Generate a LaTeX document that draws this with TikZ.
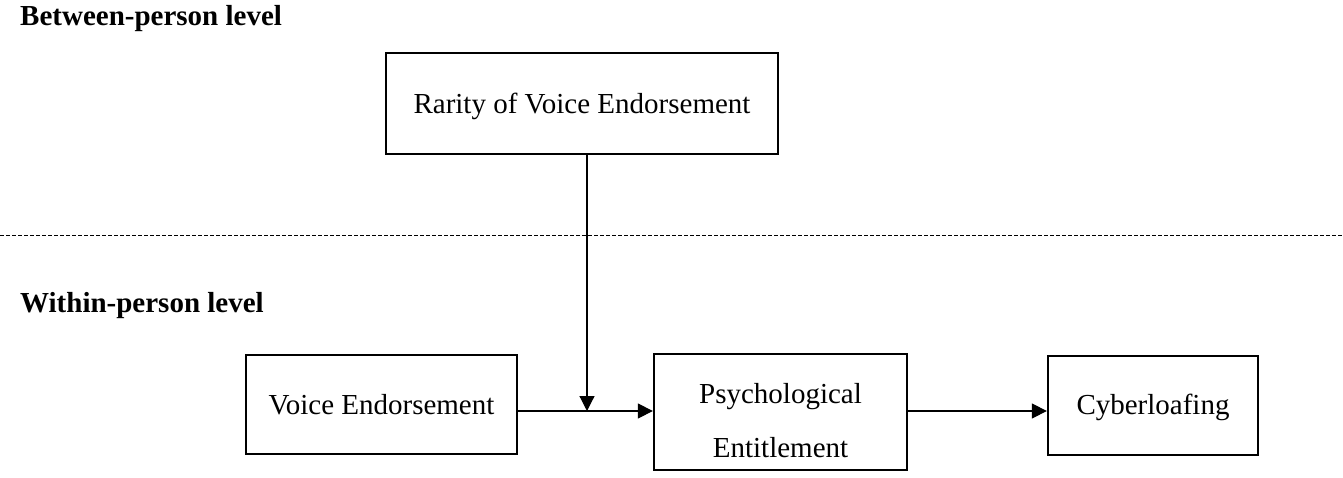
\documentclass[tikz,border=0pt]{standalone}
\usepackage{fontspec}
\setmainfont{Liberation Serif}
\usetikzlibrary{arrows.meta,calc}
\begin{document}
\begin{tikzpicture}[x=1pt,y=-1pt,
  txt/.style={font=\fontsize{29}{34}\selectfont},
  lvl/.style={font=\fontsize{29}{34}\selectfont\bfseries, inner sep=0pt, anchor=base west},
  box/.style={draw, line width=2.3pt, txt, inner sep=0pt, text depth=0pt, align=center},
  conn/.style={line width=1.2pt, -{Triangle[length=15pt,width=15pt]}},
  sep/.style={line width=1pt, dash pattern=on 4pt off 2pt}
]
\useasboundingbox (0,0) rectangle (1343,478);
\fill[white] (0,0) rectangle (1343,478);

\node[lvl] (between) at (20,26) {Between-person level};
\node[lvl] (within) at (20,312) {Within-person level};

\coordinate (sepL) at (0,236);
\coordinate (sepR) at (1343,236);
\draw[sep] (sepL) -- (sepR);

\node[box, minimum width=392pt, minimum height=101pt] (rarity) at (582,103.5) {Rarity of Voice Endorsement};
\node[box, minimum width=271pt, minimum height=99pt] (voice) at (381.5,404.5) {Voice Endorsement};
\node[box, minimum width=253pt, minimum height=116pt, text height=95pt, text depth=5pt] (psych) at (780.5,412) {Psychological\\[20pt]Entitlement};
\node[box, minimum width=210pt, minimum height=99pt, text depth=3pt] (cyber) at (1153,405.5) {Cyberloafing};

\coordinate (mid) at (587,411);
\draw[conn] (voice.east |- mid) -- (psych.west |- mid);
\draw[conn] (rarity.south -| mid) -- (mid);
\draw[conn] (psych.east |- mid) -- (cyber.west |- mid);
\end{tikzpicture}
\end{document}
